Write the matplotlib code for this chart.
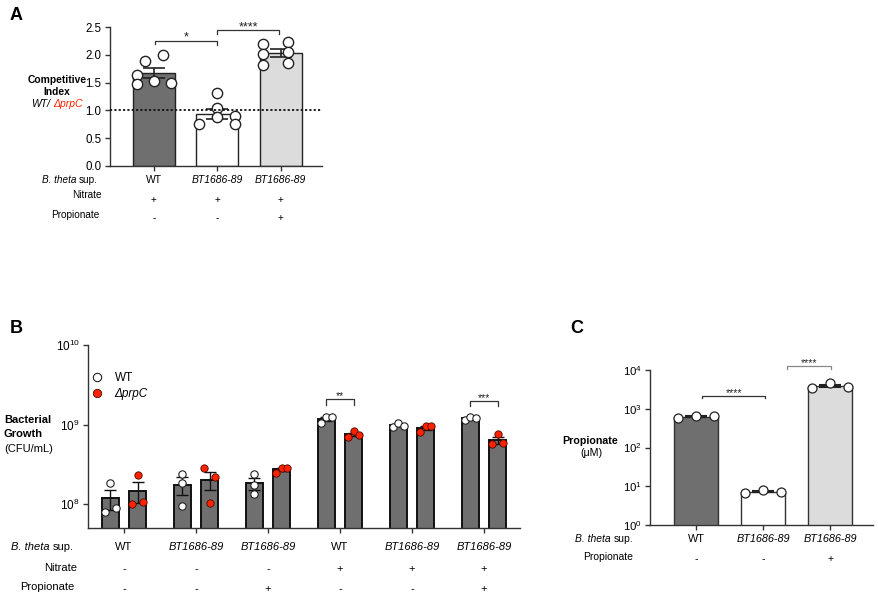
import matplotlib
matplotlib.use('Agg')
import matplotlib.pyplot as plt
from matplotlib.lines import Line2D
from matplotlib.ticker import NullLocator, FormatStrFormatter
from matplotlib.transforms import blended_transform_factory
import numpy as np

plt.rcParams['font.family'] = ['Liberation Sans', 'DejaVu Sans']
plt.rcParams['mathtext.fontset'] = 'custom'
plt.rcParams['mathtext.rm'] = 'Liberation Sans'
plt.rcParams['mathtext.it'] = 'Liberation Sans:italic'
plt.rcParams['mathtext.bf'] = 'Liberation Sans:bold'

# ---------------- data ----------------
# Panel A: competitive index WT / prpC
a_strains = ['WT', 'BT1686-89', 'BT1686-89']
a_nitrate = ['+', '+', '+']
a_propionate = ['-', '-', '+']
a_wt = [1.88, 2.00, 1.63, 1.47, 1.53, 1.50]
a_bt = [1.31, 1.05, 0.90, 0.75, 0.75, 0.88]
a_btp = [2.20, 2.23, 2.02, 2.05, 1.81, 1.85]
a_ref = 1.0
a_sig = ['*', '****']

# Panel B: bacterial growth (CFU/mL)
b_strains = ['WT', 'BT1686-89', 'BT1686-89', 'WT', 'BT1686-89', 'BT1686-89']
b_nitrate = ['-', '-', '-', '+', '+', '+']
b_propionate = ['-', '-', '+', '-', '-', '+']
b_wt = [[1.85e8, 0.80e8, 0.90e8],
        [2.42e8, 1.83e8, 0.95e8],
        [2.38e8, 1.74e8, 1.35e8],
        [1.05e9, 1.24e9, 1.24e9],
        [9.25e8, 1.05e9, 9.7e8],
        [1.15e9, 1.24e9, 1.22e9]]
b_prpc = [[2.33e8, 1.00e8, 1.06e8],
          [2.80e8, 2.21e8, 1.04e8],
          [2.45e8, 2.88e8, 2.88e8],
          [7.05e8, 8.20e8, 7.30e8],
          [8.10e8, 9.70e8, 9.70e8],
          [5.70e8, 7.50e8, 5.80e8]]
b_sig = {3: '**', 5: '***'}

# Panel C: propionate (uM)
c_strains = ['WT', 'BT1686-89', 'BT1686-89']
c_propionate = ['-', '-', '+']
c_vals = [[570, 650, 640], [6.8, 7.9, 7.2], [3380, 4540, 3720]]
c_sig = ['****', '****']

# ---------------- layout helpers ----------------
W, H = 879, 594
fig = plt.figure(figsize=(W / 100, H / 100), dpi=100)
renderer = fig.canvas.get_renderer()


def fx(x):
    return x / W


def fy(y):
    return 1 - y / H


def axrect(l, t, r, b):
    return [l / W, 1 - b / H, (r - l) / W, (b - t) / H]


def mean(v):
    return float(np.mean(v))


def sem(v):
    return float(np.std(v, ddof=1) / np.sqrt(len(v)))


EDGE = '#222222'
SPINE = '#333333'
RED = '#ff2200'
bar_colors = ['#6f6f6f', '#ffffff', '#dcdcdc']


def style_axes(ax, fs):
    for s in ['top', 'right']:
        ax.spines[s].set_visible(False)
    for s in ['left', 'bottom']:
        ax.spines[s].set_color(SPINE)
        ax.spines[s].set_linewidth(1.0)
    ax.tick_params(axis='both', colors=SPINE, labelcolor='black', labelsize=fs,
                   length=3.5, width=1.0, direction='out', pad=2.5)
    ax.set_xticklabels([])


def strain_label(ax, x, y, name, fs):
    tr = blended_transform_factory(ax.transData, fig.transFigure)
    style = 'normal' if name == 'WT' else 'italic'
    ax.text(x, fy(y), name, transform=tr, ha='center', va='center',
            fontsize=fs, style=style, clip_on=False)


def sign_label(ax, x, y, s, fs):
    tr = blended_transform_factory(ax.transData, fig.transFigure)
    ax.text(x, fy(y), s, transform=tr, ha='center', va='center',
            fontsize=fs, clip_on=False)


def row_label(x, y, s, fs):
    fig.text(fx(x), fy(y), s, ha='right', va='center', fontsize=fs)


def theta_label(x, y, fs):
    # "B. theta" italic + " sup." upright, right-aligned at pixel x
    t = fig.text(fx(x), fy(y), 'sup.', ha='right', va='center', fontsize=fs)
    bb = t.get_window_extent(renderer)
    gap = fs * 100 / 72 * 0.28
    fig.text(fx(bb.x0 - gap), fy(y), 'B. theta', ha='right', va='center',
             fontsize=fs, style='italic')


def bracket(ax, x0, x1, y, ydrop0, ydrop1, text, fs, color='#333333'):
    ax.plot([x0, x0, x1, x1], [ydrop0, y, y, ydrop1], color=color, lw=0.9,
            clip_on=False, zorder=5)
    ax.text((x0 + x1) / 2, y, text, ha='center', va='baseline', fontsize=fs,
            color='#222222', clip_on=False)


# ================= Panel A =================
axA = fig.add_axes(axrect(110, 27, 322, 166))
a_pts = [a_wt, a_bt, a_btp]
a_jit = [[-0.14, 0.14, -0.27, -0.27, 0.0, 0.27],
         [0.0, 0.0, 0.28, -0.28, 0.28, 0.0],
         [-0.28, 0.12, -0.28, 0.12, -0.28, 0.12]]
xa = np.arange(len(a_pts))
am = [mean(p) for p in a_pts]
ae = [sem(p) for p in a_pts]
axA.bar(xa, am, width=0.66, color=bar_colors, edgecolor=EDGE, linewidth=1.0, zorder=1)
axA.errorbar(xa, am, yerr=ae, fmt='none', ecolor=EDGE, elinewidth=1.2,
             capsize=8, capthick=1.2, zorder=2)
for i, pts in enumerate(a_pts):
    axA.scatter(xa[i] + np.array(a_jit[i]), pts, s=55, facecolor='white',
                edgecolor=EDGE, linewidth=1.0, zorder=3, clip_on=False)
axA.axhline(a_ref, ls=(0, (1.2, 1.2)), color='#111111', lw=1.3, zorder=4)
axA.set_xlim(-0.69, 2.65)
axA.set_ylim(0, 2.5)
axA.set_yticks(np.arange(0, 2.51, 0.5))
axA.yaxis.set_major_formatter(FormatStrFormatter('%.1f'))
axA.set_xticks(xa)
style_axes(axA, 8.3)
bracket(axA, 0.02, 1.0, 2.25, 2.19, 2.17, a_sig[0], 9)
bracket(axA, 1.0, 1.98, 2.44, 2.38, 2.38, a_sig[1], 9)
for i in range(3):
    strain_label(axA, xa[i], 180, a_strains[i], 7.5)
    sign_label(axA, xa[i], 200, a_nitrate[i], 7.2)
    sign_label(axA, xa[i], 218, a_propionate[i], 7.2)
theta_label(98, 180, 7.2)
row_label(102, 195, 'Nitrate', 7.2)
row_label(99, 215, 'Propionate', 7.2)
fig.text(fx(57), fy(80), 'Competitive', ha='center', va='center', fontsize=7.4,
         fontweight='bold')
fig.text(fx(57), fy(92), 'Index', ha='center', va='center', fontsize=7.4,
         fontweight='bold')
fig.text(fx(50), fy(104), 'WT/', ha='right', va='center', fontsize=7.5, style='italic')
fig.text(fx(53), fy(104), '\u0394prpC', ha='left', va='center', fontsize=7.5,
         style='italic', color=RED)
fig.text(fx(10), fy(7), 'A', ha='left', va='top', fontsize=13, fontweight='bold')

# ================= Panel B =================
axB = fig.add_axes(axrect(88, 345, 520, 528))
axB.set_yscale('log')
xb = np.arange(len(b_strains))
off, bw = 0.19, 0.24
bj = 0.076
b_jit_wt = [[0, -1, 1], [0, 0, 0], [0, 0, 0], [-1, 0, 1], [-1, 0, 1], [-1, 0, 1]]
b_jit_pr = [[0, -1, 1], [-1, 1, 0], [-1, 0, 1], [-1, 0, 1], [-1, 0, 1], [-1, 0, 1]]
bm_wt = [mean(p) for p in b_wt]
be_wt = [sem(p) for p in b_wt]
bm_pr = [mean(p) for p in b_prpc]
be_pr = [sem(p) for p in b_prpc]
axB.bar(xb - off, bm_wt, width=bw, color='#6f6f6f', edgecolor='#111111',
        linewidth=1.4, zorder=1)
axB.bar(xb + off, bm_pr, width=bw, color='#6f6f6f', edgecolor='#111111',
        linewidth=1.4, zorder=1)
axB.errorbar(xb - off, bm_wt, yerr=be_wt, fmt='none', ecolor='#111111',
             elinewidth=1.0, capsize=4, capthick=1.0, zorder=2)
axB.errorbar(xb + off, bm_pr, yerr=be_pr, fmt='none', ecolor='#111111',
             elinewidth=1.0, capsize=4, capthick=1.0, zorder=2)
for i in range(len(xb)):
    axB.scatter(xb[i] - off + bj * np.array(b_jit_wt[i]), b_wt[i], s=28,
                facecolor='white', edgecolor='#222222', linewidth=0.8, zorder=3)
    axB.scatter(xb[i] + off + bj * np.array(b_jit_pr[i]), b_prpc[i], s=28,
                facecolor=RED, edgecolor='#4a0a00', linewidth=0.6, zorder=3)
axB.set_xlim(-0.5, 5.5)
axB.set_ylim(5e7, 1e10)
axB.set_yticks([1e8, 1e9, 1e10])
axB.yaxis.set_minor_locator(NullLocator())
axB.set_xticks(xb)
style_axes(axB, 8.5)
bracket(axB, 3 - off, 3 + off, 2.1e9, 1.78e9, 1.78e9, b_sig[3], 7.5)
bracket(axB, 5 - off, 5 + off, 2.0e9, 1.70e9, 1.70e9, b_sig[5], 7.5)
for i in range(len(xb)):
    strain_label(axB, xb[i], 547, b_strains[i], 8)
    sign_label(axB, xb[i], 569, b_nitrate[i], 8)
    sign_label(axB, xb[i], 589, b_propionate[i], 8)
theta_label(74, 547, 8)
row_label(77, 568, 'Nitrate', 8)
row_label(74, 587, 'Propionate', 8)
handles = [Line2D([], [], ls='none', marker='o', ms=6, mfc='white', mec='#222222', mew=0.8),
           Line2D([], [], ls='none', marker='o', ms=6, mfc=RED, mec='#4a0a00', mew=0.6)]
leg = axB.legend(handles, ['WT', '\u0394prpC'], loc='upper left',
                 bbox_to_anchor=(fx(91), fy(372)), bbox_transform=fig.transFigure,
                 frameon=False, fontsize=8.5, handlelength=1.0, handletextpad=1.0,
                 labelspacing=0.35, borderpad=0, borderaxespad=0)
leg.get_texts()[1].set_style('italic')
fig.text(fx(4), fy(420), 'Bacterial', ha='left', va='center', fontsize=8,
         fontweight='bold')
fig.text(fx(4), fy(434), 'Growth', ha='left', va='center', fontsize=8,
         fontweight='bold')
fig.text(fx(4), fy(449), '(CFU/mL)', ha='left', va='center', fontsize=8)
fig.text(fx(10), fy(320), 'B', ha='left', va='top', fontsize=13, fontweight='bold')

# ================= Panel C =================
axC = fig.add_axes(axrect(650, 370, 873, 525))
axC.set_yscale('log')
xc = np.arange(len(c_vals))
cm = [mean(p) for p in c_vals]
ce = [sem(p) for p in c_vals]
axC.bar(xc, cm, width=0.66, color=bar_colors, edgecolor='#333333', linewidth=1.0, zorder=1)
axC.errorbar(xc, cm, yerr=ce, fmt='none', ecolor='#222222', elinewidth=1.3,
             capsize=8, capthick=1.5, zorder=2)
for i, pts in enumerate(c_vals):
    axC.scatter(xc[i] + np.array([-0.27, 0.0, 0.27]), pts, s=42, facecolor='white',
                edgecolor='#222222', linewidth=0.9, zorder=3)
axC.set_xlim(-0.69, 2.64)
axC.set_ylim(1, 1e4)
axC.set_yticks([1, 10, 100, 1e3, 1e4])
axC.yaxis.set_minor_locator(NullLocator())
axC.set_xticks(xc)
style_axes(axC, 8.2)
bracket(axC, 0.09, 1.03, 2170, 1860, 1860, c_sig[0], 7.5)
bracket(axC, 1.35, 2.01, 12700, 10400, 10400, c_sig[1], 7.5, color='#888888')
for i in range(len(xc)):
    strain_label(axC, xc[i], 539, c_strains[i], 7.8)
    sign_label(axC, xc[i], 559, c_propionate[i], 7.5)
theta_label(633, 539, 7.5)
row_label(633, 557, 'Propionate', 7.5)
fig.text(fx(590), fy(441), 'Propionate', ha='center', va='center', fontsize=7.7,
         fontweight='bold')
fig.text(fx(591), fy(453), '(\u03bcM)', ha='center', va='center', fontsize=7.7)
fig.text(fx(570), fy(320), 'C', ha='left', va='top', fontsize=13, fontweight='bold')

fig.savefig('out.png', dpi=100)
